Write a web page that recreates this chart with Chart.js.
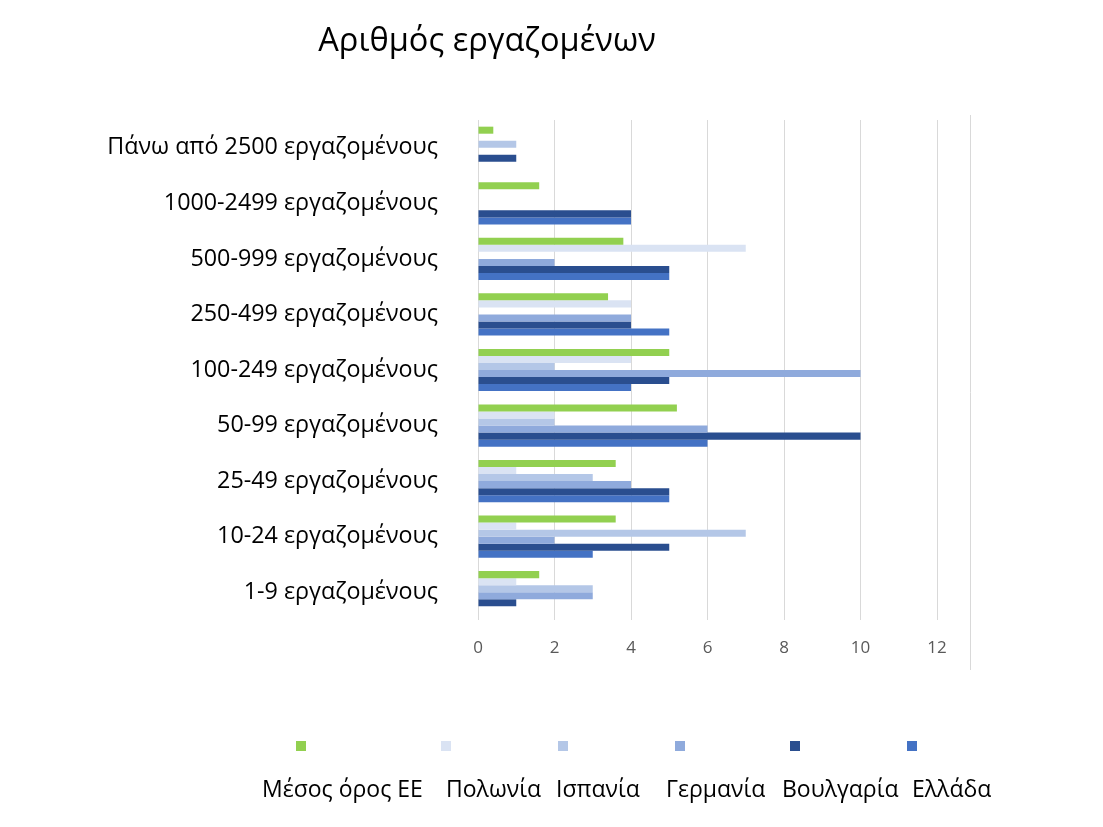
<!DOCTYPE html>
<html>
<head>
<meta charset="utf-8">
<script src="https://cdn.jsdelivr.net/npm/chart.js@4/dist/chart.umd.min.js"></script>
<style>
  html, body { margin: 0; padding: 0; background: #ffffff; }
  #wrap { position: relative; width: 1103px; height: 827px; }
</style>
</head>
<body>
<div id="wrap"><canvas id="c" width="1103" height="827"></canvas></div>
<script>
const title = 'Αριθμός εργαζομένων';
const categories = [
  'Πάνω από 2500 εργαζομένους',
  '1000-2499 εργαζομένους',
  '500-999 εργαζομένους',
  '250-499 εργαζομένους',
  '100-249 εργαζομένους',
  '50-99 εργαζομένους',
  '25-49 εργαζομένους',
  '10-24 εργαζομένους',
  '1-9 εργαζομένους'
];
const seriesNames = ['Μέσος όρος ΕΕ', 'Πολωνία', 'Ισπανία', 'Γερμανία', 'Βουλγαρία', 'Ελλάδα'];
const euAverage = [0.4, 1.6, 3.8, 3.4, 5, 5.2, 3.6, 3.6, 1.6];
const poland    = [0, 0, 7, 4, 4, 2, 1, 1, 1];
const spain     = [1, 0, 0, 0, 2, 2, 3, 7, 3];
const germany   = [0, 0, 2, 4, 10, 6, 4, 2, 3];
const bulgaria  = [1, 4, 5, 4, 5, 10, 5, 5, 1];
const greece    = [0, 4, 5, 5, 4, 6, 5, 3, 0];
const xTicks = [0, 2, 4, 6, 8, 10, 12];

const seriesValues = [euAverage, poland, spain, germany, bulgaria, greece];
const colors = ['#92D050', '#DAE3F3', '#B4C7E7', '#8FAADC', '#2A4E8F', '#4472C4'];

const FONT = '"Open Sans", "Noto Sans", sans-serif';

const decor = {
  id: 'decor',
  afterDraw(chart) {
    const ctx = chart.ctx;
    ctx.save();
    // title
    ctx.fillStyle = '#000000';
    ctx.font = '32.6px ' + FONT;
    ctx.textAlign = 'center';
    ctx.textBaseline = 'middle';
    ctx.fillText(title, 487, 42);
    // right frame line
    ctx.strokeStyle = '#d9d9d9';
    ctx.lineWidth = 1;
    ctx.beginPath();
    ctx.moveTo(970.5, 115);
    ctx.lineTo(970.5, 670);
    ctx.stroke();
    // legend
    const sq = [301, 446, 563, 680, 795, 912];
    const lx = [262, 446, 556, 666, 782, 912];
    ctx.font = '23px ' + FONT;
    ctx.textAlign = 'left';
    chart.data.datasets.forEach((ds, i) => {
      ctx.fillStyle = ds.backgroundColor;
      ctx.fillRect(sq[i] - 5, 741, 10, 10);
      ctx.fillStyle = '#000000';
      ctx.fillText(ds.label, lx[i], 790);
    });
    ctx.restore();
  }
};

new Chart(document.getElementById('c'), {
  type: 'bar',
  data: {
    labels: categories,
    datasets: seriesNames.map((name, i) => ({
      label: name,
      data: seriesValues[i],
      backgroundColor: colors[i],
      borderWidth: 0,
      categoryPercentage: 0.76,
      barPercentage: 1.0
    }))
  },
  options: {
    indexAxis: 'y',
    responsive: false,
    animation: false,
    layout: { padding: { top: 120, right: 166, left: 0, bottom: 0 } },
    plugins: {
      legend: { display: false },
      title: { display: false },
      tooltip: { enabled: false }
    },
    scales: {
      x: {
        min: 0,
        max: 12,
        afterBuildTicks: (s) => { s.ticks = xTicks.map(v => ({ value: v })); },
        afterFit: (s) => { s.height = 207; },
        grid: { color: '#d9d9d9', lineWidth: 1, drawTicks: false },
        border: { display: false },
        ticks: { color: '#595959', font: { family: FONT, size: 17 }, padding: 18 }
      },
      y: {
        afterFit: (s) => { s.width = 478; },
        grid: { display: false, drawTicks: false },
        border: { display: false },
        ticks: { color: '#000000', font: { family: FONT, size: 23.3 }, padding: 40 }
      }
    }
  },
  plugins: [decor]
});
</script>
</body>
</html>
